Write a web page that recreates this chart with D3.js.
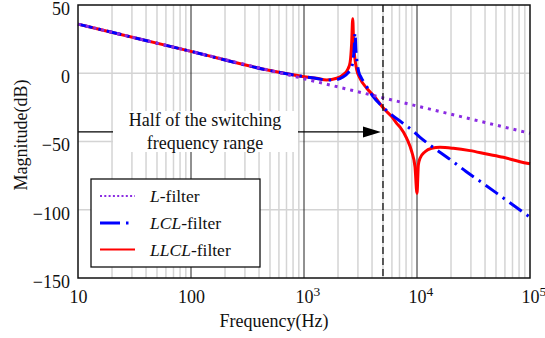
<!DOCTYPE html>
<html>
<head>
<meta charset="utf-8">
<script src="https://cdn.jsdelivr.net/npm/d3@7"></script>
<style>
  html, body { margin: 0; padding: 0; background: #fff; }
  svg { display: block; font-family: "Liberation Serif", "Times New Roman", serif; }
</style>
</head>
<body>
<svg id="chart" width="545" height="338"></svg>
<script>
// Bode magnitude of the three grid filters
const freqL = [10, 100, 1000, 10000, 100000];
const magL  = [36, 16, -4, -24, -44];

const freqLCL = [10, 100, 500, 1000, 1294, 1588, 1946, 2213, 2467, 2590, 2700, 2780, 2830, 2880,
                 2950, 3050, 3200, 3467, 4000, 4875, 5970, 7330, 8980, 10640, 13030, 20000,
                 27170, 37410, 51050, 100000];
const magLCL  = [36, 16, 2, -2.5, -3.8, -5, -4.6, -2.8, 0.5, 3, 8, 18, 29.5, 17,
                 8, 1, -3, -7.8, -16, -24, -30.5, -36, -41.5, -47, -52.6, -63.6,
                 -72, -80, -88, -105.5];

const freqLLCL = [10, 100, 500, 1000, 1294, 1588, 1946, 2213, 2467, 2560, 2640, 2700, 2750, 2810,
                  2930, 3131, 3590, 4250, 5032, 5973, 6607, 7080, 8110, 8980, 9600, 10000,
                  10280, 10640, 11780, 13490, 15990, 20960, 29420, 41380, 58100, 81620, 100000];
const magLLCL  = [36, 16, 2, -2.5, -3.7, -4.9, -3.7, -1.2, 3.7, 8, 22, 40, 21, 12,
                  2.4, -3.7, -11, -17.6, -25.5, -31.8, -36.7, -39.5, -47.7, -57.5, -68.5, -88,
                  -67, -62.3, -57.5, -55, -54.3, -55, -56.7, -59.2, -61.6, -64.8, -66.3];

const xTicks = [10, 100, 1000, 10000, 100000];
const xTickExp = ["", "", "3", "4", "5"];
const yTicks = [50, 0, -50, -100, -150];
const switchingHalf = 5000;     // half of the switching frequency, Hz
const arrowLevel = -43;         // dB level of the annotation arrow
const legendNames = [["L", "-filter"], ["LCL", "-filter"], ["LLCL", "-filter"]];

const svg = d3.select("#chart");
const plotL = 78, plotR = 530, plotT = 5, plotB = 278;
const fontSize = 18;

const x = d3.scaleLog().domain([10, 100000]).range([plotL, plotR]);
const y = d3.scaleLinear().domain([-150, 50]).range([plotB, plotT]);

// grid
const grid = svg.append("g");
const minor = [];
for (let d = 10; d < 100000; d *= 10) for (let k = 2; k <= 9; k++) minor.push(d * k);
grid.selectAll("line.minor").data(minor).join("line")
  .attr("x1", d => x(d)).attr("x2", d => x(d))
  .attr("y1", plotT).attr("y2", plotB)
  .attr("stroke", "#d4d4d4").attr("stroke-width", 1.5);
grid.selectAll("line.h").data([0, -50, -100]).join("line")
  .attr("x1", plotL).attr("x2", plotR)
  .attr("y1", d => y(d)).attr("y2", d => y(d))
  .attr("stroke", "#d4d4d4").attr("stroke-width", 1.5);
grid.selectAll("line.major").data([100, 1000, 10000]).join("line")
  .attr("x1", d => x(d)).attr("x2", d => x(d))
  .attr("y1", plotT).attr("y2", plotB)
  .attr("stroke", "#222").attr("stroke-width", 1);

// curves
const line = d3.line().x(d => x(d[0])).y(d => y(d[1])).curve(d3.curveMonotoneX);
const zip = (f, m) => f.map((v, i) => [v, m[i]]);

svg.append("path").datum(zip(freqLLCL, magLLCL))
  .attr("d", line).attr("fill", "none")
  .attr("stroke", "#ff0000").attr("stroke-width", 3);
svg.append("path").datum(zip(freqLCL, magLCL))
  .attr("d", line).attr("fill", "none")
  .attr("stroke", "#0000ff").attr("stroke-width", 3)
  .attr("stroke-dasharray", "15,6,2.5,6");
svg.append("path").datum(zip(freqL, magL))
  .attr("d", line).attr("fill", "none")
  .attr("stroke", "#8a2be2").attr("stroke-width", 3)
  .attr("stroke-dasharray", "3,5");

// half switching frequency marker
svg.append("line")
  .attr("x1", x(switchingHalf)).attr("x2", x(switchingHalf))
  .attr("y1", plotT).attr("y2", plotB)
  .attr("stroke", "#111").attr("stroke-width", 1.3)
  .attr("stroke-dasharray", "7,4");

// annotation arrow and label
const ay = y(arrowLevel);
svg.append("line")
  .attr("x1", plotL).attr("x2", x(switchingHalf) - 16)
  .attr("y1", ay).attr("y2", ay)
  .attr("stroke", "#000").attr("stroke-width", 1.3);
const tipX = x(switchingHalf) - 2;
svg.append("path")
  .attr("d", `M${tipX},${ay} L${tipX - 18},${ay - 5.5} L${tipX - 18},${ay + 5.5} Z`)
  .attr("fill", "#000");
svg.append("rect")
  .attr("x", 113).attr("y", 111).attr("width", 185).attr("height", 41)
  .attr("fill", "#fff");
const note = svg.append("text")
  .attr("text-anchor", "middle").attr("font-size", fontSize).attr("fill", "#111");
note.append("tspan").attr("x", 205).attr("y", 126).text("Half of the switching");
note.append("tspan").attr("x", 205).attr("y", 149).text("frequency range");

// frame
svg.append("rect")
  .attr("x", plotL).attr("y", plotT).attr("width", plotR - plotL).attr("height", plotB - plotT)
  .attr("fill", "none").attr("stroke", "#111").attr("stroke-width", 1.5);

// axes
const yAxis = svg.append("g").attr("transform", `translate(${plotL},0)`)
  .call(d3.axisLeft(y).tickValues(yTicks).tickSize(0).tickPadding(8));
yAxis.select(".domain").remove();
yAxis.selectAll("text")
  .attr("font-size", fontSize).attr("font-family", "Liberation Serif").attr("fill", "#111")
  .attr("dy", "0.52em");

const xAxis = svg.append("g").attr("transform", `translate(0,${plotB})`)
  .call(d3.axisBottom(x).tickValues(xTicks).tickSize(0).tickPadding(12)
    .tickFormat(d => d));
xAxis.select(".domain").remove();
xAxis.selectAll("text")
  .attr("font-size", fontSize).attr("font-family", "Liberation Serif").attr("fill", "#111")
  .each(function (d, i) {
    const t = d3.select(this);
    if (xTickExp[i]) {
      t.text("").attr("text-anchor", "start").attr("x", -9);
      t.append("tspan").text("10");
      t.append("tspan").attr("dy", "-0.5em").attr("font-size", 13.5).text(xTickExp[i]);
    }
  });

svg.append("text")
  .attr("x", 274).attr("y", 327).attr("text-anchor", "middle")
  .attr("font-size", fontSize).attr("fill", "#111").text("Frequency(Hz)");
svg.append("text")
  .attr("transform", "translate(27,135) rotate(-90)").attr("text-anchor", "middle")
  .attr("font-size", fontSize).attr("fill", "#111").text("Magnitude(dB)");

// legend
const lg = svg.append("g");
lg.append("rect").attr("x", 91).attr("y", 179).attr("width", 169).attr("height", 88)
  .attr("fill", "#fff").attr("stroke", "#111").attr("stroke-width", 1.3);
const legendStyles = [
  { color: "#8a2be2", width: 2, dash: "2,2.3" },
  { color: "#0000ff", width: 3, dash: "20,6,2.5,20" },
  { color: "#ff0000", width: 2, dash: null }
];
const legendRows = [196, 223, 249.5];
legendNames.forEach((name, i) => {
  const s = legendStyles[i];
  lg.append("line").attr("x1", 100).attr("x2", 135)
    .attr("y1", legendRows[i]).attr("y2", legendRows[i])
    .attr("stroke", s.color).attr("stroke-width", s.width)
    .attr("stroke-dasharray", s.dash);
  const t = lg.append("text").attr("x", 150).attr("y", legendRows[i] + 6)
    .attr("font-size", 17.5).attr("fill", "#111");
  t.append("tspan").attr("font-style", "italic").text(name[0]);
  t.append("tspan").text(name[1]);
});
</script>
</body>
</html>
